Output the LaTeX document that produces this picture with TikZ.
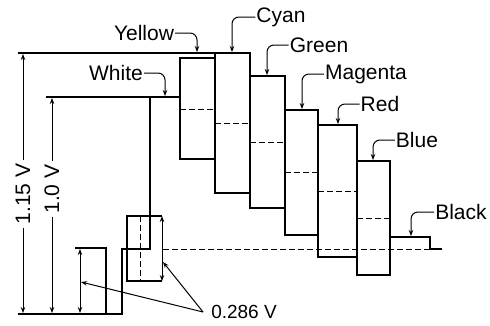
\documentclass[tikz,border=0pt]{standalone}
\usepackage{fontspec}
\setmainfont{Liberation Sans}
\usetikzlibrary{arrows.meta}

\begin{document}
\begin{tikzpicture}[x=1pt, y=-1pt,
  every node/.style={font=\fontsize{21}{25}\selectfont, inner sep=1pt},
  wave/.style={line width=1.6pt},
  ext/.style={line width=1.3pt},
  lum/.style={line width=1pt, dash pattern=on 6pt off 3pt},
  dim/.style={line width=1pt, -{Stealth[length=6pt,width=4.5pt]}},
  dimboth/.style={line width=1pt, {Stealth[length=6pt,width=4.5pt]}-{Stealth[length=6pt,width=4.5pt]}},
  leader/.style={line width=1pt, rounded corners=7pt, -{Stealth[length=6pt,width=4.5pt]}}]
\useasboundingbox (0,0) rectangle (490,325);
% level lines
\draw[ext] (18,53) -- (215,53);
\draw[ext] (46,97) -- (150,97);
\draw[ext] (18,314) -- (106,314);
\draw[lum] (163,249) -- (430,249);
% sync, back porch, white
\draw[wave] (75,248) -- (106,248) -- (106,314) -- (122,314) -- (122,249) -- (150,249) -- (150,97) -- (180,97);
% burst
\draw[wave] (162,216) -- (127,216) -- (127,281) -- (162,281);
\draw[lum] (140,216) -- (140,281);
% colour bars
\draw[wave] (180,58) rectangle (215,159);
\draw[lum] (180,109) -- (215,109);
\draw[wave] (215,53) rectangle (250,193);
\draw[lum] (215,123) -- (250,123);
\draw[wave] (250,76) rectangle (285,208);
\draw[lum] (250,142) -- (285,142);
\draw[wave] (285,110) rectangle (318,235);
\draw[lum] (285,172) -- (318,172);
\draw[wave] (318,125) rectangle (357,257);
\draw[lum] (318,191) -- (357,191);
\draw[wave] (357,161) rectangle (390,275);
\draw[lum] (357,218) -- (390,218);
\draw[wave] (390,237) -- (430,237) -- (430,249) -- (442,249);
% voltage scales
\coordinate (Top115) at (23,54);
\coordinate (Bot115) at (23,313);
\node[rotate=90, inner sep=3pt] (L115) at (23,194) {1.15 V};
\draw[dim] (L115.east) -- (Top115);
\draw[dim] (L115.west) -- (Bot115);
\coordinate (Top10) at (52,98);
\coordinate (Bot10) at (52,313);
\node[rotate=90, inner sep=3pt] (L10) at (52,189) {1.0 V};
\draw[dim] (L10.east) -- (Top10);
\draw[dim] (L10.west) -- (Bot10);
\coordinate (SyncTop) at (80,249);
\coordinate (SyncBot) at (80,313);
\draw[dimboth] (SyncTop) -- (SyncBot);
\coordinate (BurstTop) at (162,216);
\coordinate (BurstBot) at (162,281);
\draw[dimboth] (BurstTop) -- (BurstBot);
\node[font=\fontsize{19}{22}\selectfont] (L286) at (244,312) {0.286 V};
\coordinate (tSync) at (81,282);
\coordinate (tBurst) at (163,262);
\draw[dim] ([xshift=-7pt]L286.west) -- (tSync);
\draw[dim] ([xshift=-7pt]L286.west) -- (tBurst);
% bar names
\node (LYellow) at (144,33) {Yellow};
\coordinate (tYellow) at (197,52);
\draw[leader] (LYellow.east) -| (tYellow);
\node (LWhite) at (116,73) {White};
\coordinate (tWhite) at (165,96);
\draw[leader] (LWhite.east) -| (tWhite);
\node (LCyan) at (281,17) {Cyan};
\coordinate (tCyan) at (232,52);
\draw[leader] (LCyan.west) -| (tCyan);
\node (LGreen) at (319,45) {Green};
\coordinate (tGreen) at (267,75);
\draw[leader] (LGreen.west) -| (tGreen);
\node (LMagenta) at (366,74) {Magenta};
\coordinate (tMagenta) at (302,109);
\draw[leader] (LMagenta.west) -| (tMagenta);
\node (LRed) at (380,104) {Red};
\coordinate (tRed) at (338,124);
\draw[leader] (LRed.west) -| (tRed);
\node (LBlue) at (417,140) {Blue};
\coordinate (tBlue) at (373,160);
\draw[leader] (LBlue.west) -| (tBlue);
\node (LBlack) at (461,212) {Black};
\coordinate (tBlack) at (411,236);
\draw[leader] (LBlack.west) -| (tBlack);
\end{tikzpicture}
\end{document}
